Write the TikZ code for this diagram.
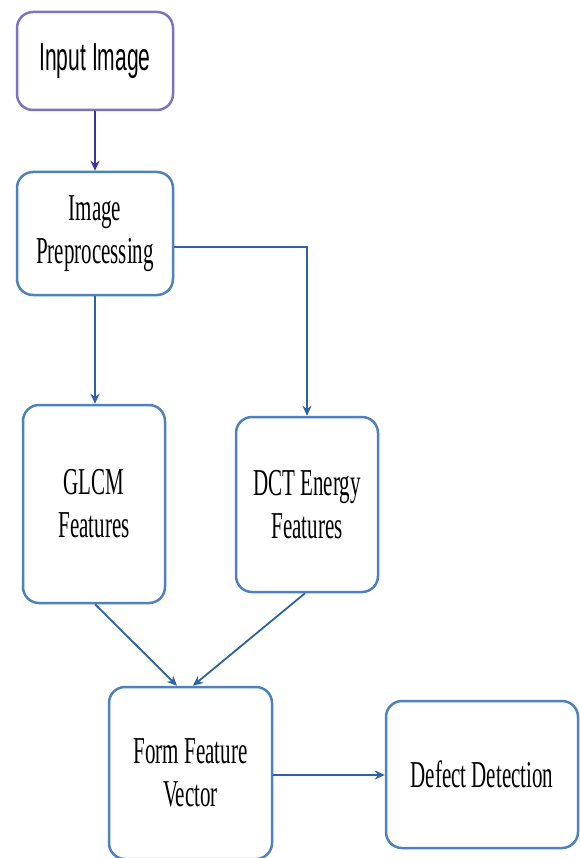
\documentclass[tikz,border=0pt]{standalone}
\usepackage{fontspec}
\setmainfont{Liberation Serif}
\newfontfamily\boxserif[FakeStretch=0.553]{Liberation Serif}
\newfontfamily\boxsans[FakeStretch=0.54]{Liberation Sans}
\usetikzlibrary{arrows.meta}
\definecolor{boxblue}{RGB}{79,129,189}
\definecolor{linkblue}{RGB}{46,98,160}
\definecolor{boxpurple}{RGB}{125,115,195}
\definecolor{linkpurple}{RGB}{64,52,160}
\tikzset{
  stage/.style={draw=boxblue, line width=2.5pt, rounded corners=16pt, fill=white,
    align=center, inner sep=0pt, font=\boxserif\fontsize{38}{43}\selectfont},
  link/.style={draw=linkblue, line width=1.8pt, -{Stealth[length=10pt,width=9pt]}},
}
\begin{document}
\begin{tikzpicture}[x=1pt,y=-1pt]
\useasboundingbox (0,0) rectangle (580,858);
\clip (0,0) rectangle (580,858);
\fill[white] (0,0) rectangle (580,858);

\node[stage, draw=boxpurple, minimum width=156pt, minimum height=98pt,
  font=\boxsans\fontsize{39}{43}\selectfont] (inp) at (95,61) {Input Image};
\node[stage, minimum width=156pt, minimum height=123pt] (pre) at (95,233.5) {Image\\Preprocessing};
\node[stage, minimum width=142pt, minimum height=198pt] (glcm) at (94,504) {GLCM\\Features};
\node[stage, minimum width=142pt, minimum height=175pt] (dct) at (307,504.5) {DCT Energy\\Features};
\node[stage, minimum width=163pt, minimum height=172pt] (form) at (190.5,773) {Form Feature\\Vector};
\node[stage, minimum width=192pt, minimum height=147pt] (defect) at (482,774.5) {Defect Detection};

\draw[link, draw=linkpurple] (inp.south) -- (pre.north);
\draw[link] (pre.south) -- (pre.south |- glcm.north);
\draw[link] ([yshift=-13.5pt]pre.east) -| (dct.north);
\draw[link] ([xshift=1pt]glcm.south) -- ([xshift=-13.5pt]form.north);
\draw[link] ([xshift=-2pt]dct.south) -- ([xshift=2.5pt]form.north);
\draw[link] ([yshift=-2pt]form.east) -- ([yshift=-2pt]form.east -| defect.west);
\end{tikzpicture}
\end{document}
